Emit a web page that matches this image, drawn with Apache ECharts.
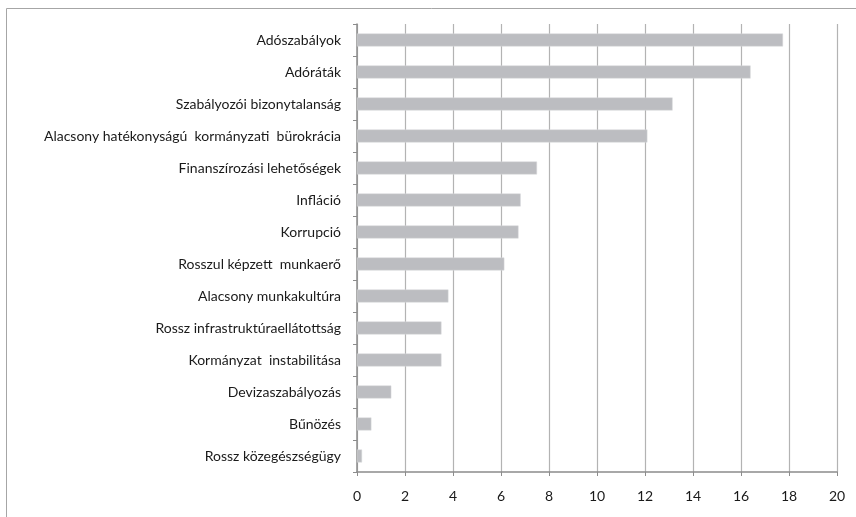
<!DOCTYPE html>
<html>
<head>
<meta charset="utf-8">
<script src="https://cdn.jsdelivr.net/npm/echarts@6/dist/echarts.min.js"></script>
<style>
  html, body { margin: 0; padding: 0; background: #fff; }
  #chart { width: 856px; height: 517px; }
</style>
</head>
<body>
<div id="chart"></div>
<script>
// kategóriák felülről lefelé
var categories = [
  "Adószabályok",
  "Adóráták",
  "Szabályozói bizonytalanság",
  "Alacsony hatékonyságú  kormányzati  bürokrácia",
  "Finanszírozási lehetőségek",
  "Infláció",
  "Korrupció",
  "Rosszul képzett  munkaerő",
  "Alacsony munkakultúra",
  "Rossz infrastruktúraellátottság",
  "Kormányzat  instabilitása",
  "Devizaszabályozás",
  "Bűnözés",
  "Rossz közegészségügy"
];
var values = [17.75, 16.4, 13.15, 12.1, 7.5, 6.82, 6.73, 6.14, 3.81, 3.52, 3.52, 1.43, 0.6, 0.21];
// tengely
var xMin = 0;
var xMax = 20;
var xStep = 2;

var fontFamily = "Lato, 'Open Sans', sans-serif";

var myChart = echarts.init(document.getElementById("chart"));
var option = {
  animation: false,
  grid: { left: 357, top: 24, right: 19, bottom: 45 },
  graphic: [
    {
      // keret
      type: "rect",
      shape: { x: 6.5, y: 8.5, width: 900, height: 600 },
      style: { fill: "none", stroke: "#a6a6a6", lineWidth: 1 },
      silent: true
    }
  ],
  xAxis: {
    type: "value",
    min: xMin,
    max: xMax,
    interval: xStep,
    axisLine: { show: true, lineStyle: { color: "#8c8c8c", width: 1.5 } },
    axisTick: { show: true, length: 4, lineStyle: { color: "#8c8c8c" } },
    axisLabel: { color: "#1a1a1a", fontSize: 14, fontFamily: fontFamily, margin: 17 },
    splitLine: { show: true, lineStyle: { color: "#b3b3b3", width: 1.2 } }
  },
  yAxis: {
    type: "category",
    data: categories,
    inverse: true,
    axisLine: { show: true, lineStyle: { color: "#8c8c8c", width: 1.5 } },
    axisTick: { show: true, length: 4, lineStyle: { color: "#8c8c8c" } },
    axisLabel: { color: "#1a1a1a", fontSize: 14, fontFamily: fontFamily, margin: 16 }
  },
  series: [
    {
      type: "bar",
      data: values,
      barWidth: 13,
      itemStyle: { color: "#bcbdc1", borderColor: "#d9dadc", borderWidth: 0.5 }
    }
  ]
};
myChart.setOption(option);
</script>
</body>
</html>
